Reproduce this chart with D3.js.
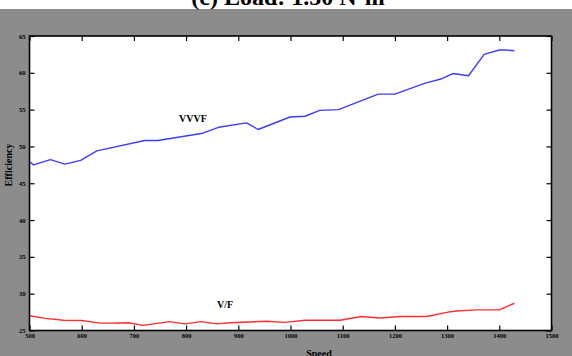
<!DOCTYPE html>
<html>
<head>
<meta charset="utf-8">
<script src="https://cdn.jsdelivr.net/npm/d3@7"></script>
<style>
  html, body { margin: 0; padding: 0; background: #ffffff; }
  svg { display: block; }
  .tick text { font-family: "Liberation Serif", "DejaVu Serif", serif; font-weight: bold; font-size: 6.5px; fill: #000; }
</style>
</head>
<body>
<svg id="chart" width="572" height="356"></svg>
<script>
// Efficiency vs. speed at 1.50 N-m load, VVVF and V/F control
const speedVVVF = [500, 508, 540, 568, 598, 629, 721, 746, 832, 862, 916, 938, 999, 1028, 1056, 1092, 1168, 1200, 1258, 1290, 1311, 1341, 1371, 1400, 1411, 1429];
const effVVVF   = [47.9, 47.5, 48.2, 47.6, 48.1, 49.4, 50.8, 50.8, 51.8, 52.6, 53.2, 52.3, 54.0, 54.1, 54.9, 55.0, 57.1, 57.1, 58.6, 59.2, 59.9, 59.6, 62.5, 63.1, 63.1, 63.0];

const speedVF = [500, 530, 565, 600, 635, 654, 689, 718, 769, 798, 830, 859, 884, 954, 989, 1028, 1095, 1136, 1171, 1210, 1261, 1302, 1318, 1357, 1400, 1429];
const effVF   = [27.0, 26.65, 26.4, 26.35, 26.0, 26.0, 26.05, 25.7, 26.2, 25.9, 26.2, 25.9, 26.05, 26.25, 26.1, 26.4, 26.4, 26.9, 26.7, 26.9, 26.9, 27.5, 27.65, 27.8, 27.8, 28.7];

const xTicks = [500, 600, 700, 800, 900, 1000, 1100, 1200, 1300, 1400, 1500];
const yTicks = [25, 30, 35, 40, 45, 50, 55, 60, 65];

const W = 572, H = 356;
const plot = { left: 29.5, right: 551.5, top: 36, bottom: 330.5 };

const svg = d3.select("#chart");

// figure background: grey window below a white strip
svg.append("rect").attr("x", 0).attr("y", 0).attr("width", W).attr("height", H).attr("fill", "#ffffff");
svg.append("rect").attr("x", 0).attr("y", 9).attr("width", W).attr("height", H - 9).attr("fill", "#8c8c8c");

// title, clipped by the top of the page
svg.append("text")
  .attr("x", 288).attr("y", 5)
  .attr("text-anchor", "middle")
  .style("font-family", "'Liberation Serif', 'DejaVu Serif', serif")
  .style("font-weight", "bold")
  .style("font-size", "24px")
  .text("(c) Load: 1.50 N-m");

const x = d3.scaleLinear().domain([500, 1500]).range([plot.left, plot.right]);
const y = d3.scaleLinear().domain([25, 65]).range([plot.bottom, plot.top]);

// axes area
svg.append("rect")
  .attr("x", plot.left).attr("y", plot.top)
  .attr("width", plot.right - plot.left).attr("height", plot.bottom - plot.top)
  .attr("fill", "#ffffff");

const line = d3.line().x(d => x(d[0])).y(d => y(d[1]));

svg.append("path")
  .datum(d3.zip(speedVVVF, effVVVF))
  .attr("d", line)
  .attr("fill", "none")
  .attr("stroke", "#3d3dff")
  .attr("stroke-width", 1.4)
  .attr("stroke-linejoin", "round");

svg.append("path")
  .datum(d3.zip(speedVF, effVF))
  .attr("d", line)
  .attr("fill", "none")
  .attr("stroke", "#ff2f2f")
  .attr("stroke-width", 1.4)
  .attr("stroke-linejoin", "round");

// inward ticks on all four sides
const gB = svg.append("g").attr("transform", `translate(0,${plot.bottom})`)
  .call(d3.axisBottom(x).tickValues(xTicks).tickSizeInner(-5).tickSizeOuter(0).tickPadding(3).tickFormat(d3.format("d")));
const gL = svg.append("g").attr("transform", `translate(${plot.left},0)`)
  .call(d3.axisLeft(y).tickValues(yTicks).tickSizeInner(-5).tickSizeOuter(0).tickPadding(4).tickFormat(d3.format("d")));
const gT = svg.append("g").attr("transform", `translate(0,${plot.top})`)
  .call(d3.axisTop(x).tickValues(xTicks).tickSizeInner(-5).tickSizeOuter(0).tickFormat(""));
const gR = svg.append("g").attr("transform", `translate(${plot.right},0)`)
  .call(d3.axisRight(y).tickValues(yTicks).tickSizeInner(-5).tickSizeOuter(0).tickFormat(""));

[gB, gL, gT, gR].forEach(g => {
  g.select(".domain").remove();
  g.selectAll(".tick line").attr("stroke", "#000").attr("stroke-width", 1.2);
});
gB.selectAll(".tick text").attr("dy", "0.7em");

// axes frame
svg.append("rect")
  .attr("x", plot.left).attr("y", plot.top)
  .attr("width", plot.right - plot.left).attr("height", plot.bottom - plot.top)
  .attr("fill", "none").attr("stroke", "#000").attr("stroke-width", 1.6);

// axis titles
const labelFont = sel => sel
  .style("font-family", "'Liberation Serif', 'DejaVu Serif', serif")
  .style("font-weight", "bold");

svg.append("text")
  .attr("transform", "translate(12,165) rotate(-90)")
  .attr("text-anchor", "middle")
  .call(labelFont)
  .style("font-size", "10px")
  .text("Efficiency");

svg.append("text")
  .attr("x", 319).attr("y", 357)
  .attr("text-anchor", "middle")
  .call(labelFont)
  .style("font-size", "10px")
  .text("Speed");

// series labels
svg.append("text")
  .attr("x", 179).attr("y", 122)
  .call(labelFont)
  .style("font-size", "10px")
  .text("VVVF");

svg.append("text")
  .attr("x", 217).attr("y", 308)
  .call(labelFont)
  .style("font-size", "10px")
  .text("V/F");
</script>
</body>
</html>
